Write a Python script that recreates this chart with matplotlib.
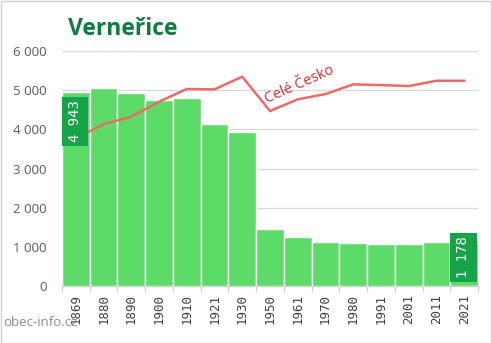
import matplotlib
matplotlib.use("Agg")
import matplotlib.pyplot as plt
from matplotlib.patches import Rectangle
import numpy as np

years = ["1869", "1880", "1890", "1900", "1910", "1921", "1930", "1950",
         "1961", "1970", "1980", "1991", "2001", "2011", "2021"]
population = [4943, 5050, 4940, 4750, 4790, 4128, 3940, 1463,
              1259, 1131, 1090, 1064, 1064, 1115, 1178]
czech_scaled = [3770, 4135, 4320, 4705, 5030, 5020, 5345, 4468,
                4766, 4900, 5148, 5130, 5105, 5240, 5240]
yticks = [0, 1000, 2000, 3000, 4000, 5000, 6000]
ytick_labels = ["0", "1 000", "2 000", "3 000", "4 000", "5 000", "6 000"]
title = "Verneřice"
line_label = "Celé Česko"
watermark = "obec-info.cz"

W, H = 492, 343
fig = plt.figure(figsize=(W / 100, H / 100), dpi=100)
fig.patch.set_facecolor("white")

x0, x1 = 62, 478
y0, y1 = 286, 51
ax = fig.add_axes([x0 / W, 1 - y0 / H, (x1 - x0) / W, (y0 - y1) / H])

x = np.arange(len(years))
bar_color = "#5cdb69"
box_color = "#16a34a"

ax.bar(x, population, width=1.0, color=bar_color, edgecolor="white",
       linewidth=1.0, zorder=2)
ax.plot(x, czech_scaled, color="#ea6b66", linewidth=1.8, zorder=3)

ax.set_xlim(-0.5, len(years) - 0.5)
ax.set_ylim(0, 6000)
ax.set_yticks(yticks)
ax.set_yticklabels(ytick_labels, fontfamily="Open Sans", fontsize=9.5,
                   color="#595959")
ax.tick_params(axis="y", length=0, pad=11)
ax.grid(axis="y", color="#d9d9d9", linewidth=0.9, zorder=0)
ax.set_axisbelow(True)

ax.set_xticks(x)
ax.set_xticklabels(years, rotation=90, fontfamily="DejaVu Sans Mono",
                   fontsize=9, color="#404040")
ax.set_xticks(np.arange(-0.5, len(years)), minor=True)
ax.tick_params(axis="x", which="major", length=0, pad=6)
ax.tick_params(axis="x", which="minor", length=4, color="#d0d0d0", width=0.9)

for s in ["top", "right", "left"]:
    ax.spines[s].set_visible(False)
ax.spines["bottom"].set_color("#d0d0d0")
ax.spines["bottom"].set_linewidth(0.9)

# value boxes
px_per_unit = (y0 - y1) / 6000.0
box_h = 49 / px_per_unit
first_top = population[0] - 4.5 / px_per_unit
ax.add_patch(Rectangle((-0.5, first_top - box_h), 0.95, box_h,
                       facecolor=box_color, edgecolor="none", zorder=4))
ax.text(-0.5 + 0.475, first_top - box_h / 2, "4 943", rotation=90,
        ha="center", va="center", color="white", fontsize=10,
        fontfamily="DejaVu Sans Mono", zorder=5)
last = len(years) - 1
last_bottom = 4 / px_per_unit
ax.add_patch(Rectangle((last - 0.5, last_bottom), 0.95, box_h,
                       facecolor=box_color, edgecolor="none", zorder=4))
ax.text(last - 0.5 + 0.475, last_bottom + box_h / 2, "1 178", rotation=90,
        ha="center", va="center", color="white", fontsize=10,
        fontfamily="DejaVu Sans Mono", zorder=5)

ax.text(6.9, 4660, line_label, rotation=24, rotation_mode="anchor",
        ha="left", va="baseline", color="#d92b2b", fontsize=10.5,
        fontfamily="Open Sans", zorder=5)

fig.text(68 / W, 1 - 35 / H, title, ha="left", va="baseline",
         fontfamily="Open Sans", fontweight="bold", fontsize=16.5,
         color="#0b7d3e")
fig.text(3 / W, 1 - 322 / H, watermark, ha="left", va="center",
         fontfamily="Open Sans", fontsize=9.5, color="#8c8c8c")

fig.add_artist(Rectangle((0.5 / W, 0.5 / H), 1 - 1.5 / W, 1 - 1.5 / H,
                         transform=fig.transFigure, facecolor="none",
                         edgecolor="#d0d0d0", linewidth=1.0))

fig.savefig("out.png", dpi=100, facecolor="white")
